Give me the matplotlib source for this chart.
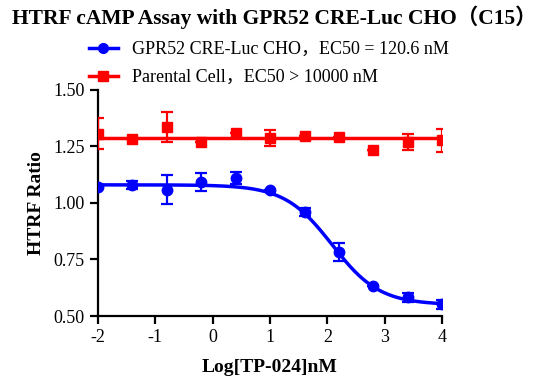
"""HTRF cAMP assay dose-response, GPR52 CRE-Luc CHO vs parental cells."""

import numpy as np
import matplotlib
matplotlib.use("Agg")
import matplotlib.pyplot as plt

# log concentration of TP-024 (nM)
log_conc = [-2.0, -1.4, -0.8, -0.2, 0.4, 1.0, 1.6, 2.2, 2.8, 3.4, 4.0]

# GPR52 CRE-Luc CHO
gpr52_mean = [1.069, 1.081, 1.059, 1.091, 1.110, 1.059, 0.959, 0.784, 0.632, 0.584, 0.553]
gpr52_err = [0.0, 0.018, 0.063, 0.040, 0.027, 0.0, 0.018, 0.039, 0.0, 0.020, 0.020]

# Parental cell
parental_mean = [1.306, 1.284, 1.336, 1.271, 1.311, 1.287, 1.294, 1.291, 1.235, 1.269, 1.277]
parental_err = [0.069, 0.0, 0.065, 0.0, 0.0, 0.035, 0.0, 0.0, 0.0, 0.036, 0.052]

# fitted curve parameters (4PL)
gpr52_top = 1.08
gpr52_bottom = 0.55
gpr52_log_ec50 = np.log10(120.6)
gpr52_hill = 1.05
parental_level = 1.287

labels = ["GPR52 CRE-Luc CHO，EC50 = 120.6 nM", "Parental Cell，EC50 > 10000 nM"]
title = "HTRF cAMP Assay with GPR52 CRE-Luc CHO（C15）"

plt.rcParams["font.family"] = ["Liberation Serif", "Noto Sans CJK SC"]
plt.rcParams["axes.unicode_minus"] = False

fig = plt.figure(figsize=(5.38, 3.84), dpi=100)
ax = fig.add_axes([0.182, 0.177, 0.640, 0.589])

x_fit = np.linspace(-2, 4, 300)
y_fit = gpr52_bottom + (gpr52_top - gpr52_bottom) / (
    1 + 10 ** ((x_fit - gpr52_log_ec50) * gpr52_hill)
)

blue = "#0000ff"
red = "#ff0000"

ax.plot([-2, 4], [parental_level, parental_level], color=red, lw=2.5, zorder=2)
ax.errorbar(log_conc, parental_mean, yerr=parental_err, fmt="s", color=red,
            ms=7.5, elinewidth=1.6, capsize=4, capthick=1.6, zorder=3)
ax.plot(x_fit, y_fit, color=blue, lw=2.5, zorder=2)
ax.errorbar(log_conc, gpr52_mean, yerr=gpr52_err, fmt="o", color=blue,
            ms=7.5, elinewidth=1.6, capsize=4, capthick=1.6, zorder=3)

# legend handles
h1, = ax.plot([], [], color=blue, lw=2.5, marker="o", ms=7)
h2, = ax.plot([], [], color=red, lw=2.5, marker="s", ms=7)
fig.legend([h1, h2], labels, loc="upper left", bbox_to_anchor=(0.135, 0.935),
           frameon=False, fontsize=13, handlelength=1.6, labelspacing=0.6,
           handletextpad=0.8)

ax.set_xlim(-2, 4)
ax.set_ylim(0.5, 1.5)
ax.set_xticks([-2, -1, 0, 1, 2, 3, 4])
ax.set_yticks([0.5, 0.75, 1.0, 1.25, 1.5])
ax.set_yticklabels(["0.50", "0.75", "1.00", "1.25", "1.50"])
ax.spines["top"].set_visible(False)
ax.spines["right"].set_visible(False)
ax.spines["left"].set_linewidth(1.6)
ax.spines["bottom"].set_linewidth(1.6)
ax.tick_params(direction="out", length=6, width=1.6, labelsize=13)

ax.set_xlabel("Log[TP-024]nM", fontsize=14, fontweight="bold", labelpad=9)
ax.set_ylabel("HTRF Ratio", fontsize=14, fontweight="bold", labelpad=6)
fig.text(0.51, 0.955, title, ha="center", va="center", fontsize=15.5, fontweight="bold")

fig.savefig("out.png", dpi=100)
